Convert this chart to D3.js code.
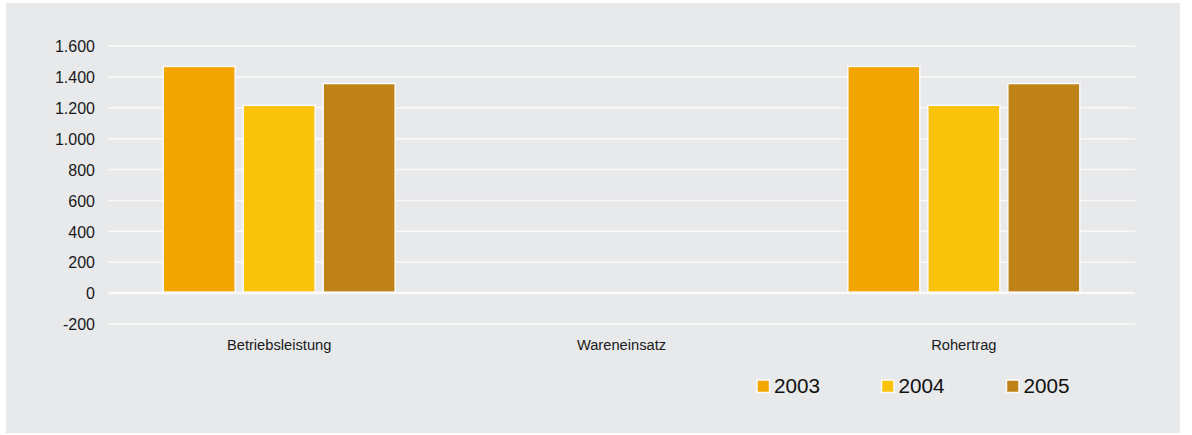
<!DOCTYPE html>
<html><head><meta charset="utf-8">
<script src="https://cdn.jsdelivr.net/npm/d3@7"></script>
<style>body{margin:0;background:#fff;font-family:"Liberation Sans",Arial,sans-serif}
text{font-family:"Liberation Sans",Arial,sans-serif}</style>
</head><body>
<svg id="c" width="1192" height="435"></svg>
<script>
const categories = ["Betriebsleistung", "Wareneinsatz", "Rohertrag"];
const years = ["2003", "2004", "2005"];
const v2003 = [1468, 0, 1468];
const v2004 = [1216, 0, 1216];
const v2005 = [1357, 0, 1357];
const yTicks = [-200, 0, 200, 400, 600, 800, 1000, 1200, 1400, 1600];
const colors = ["#f3a500", "#f9c30a", "#bf8216"];

const series = [v2003, v2004, v2005];
const svg = d3.select("#c");
svg.append("rect").attr("x", 6).attr("y", 3).attr("width", 1174).attr("height", 430).attr("fill", "#e8e9eb");

const x0 = d3.scaleBand().domain(categories).range([108, 1135]);
const y = d3.scaleLinear().domain([-200, 1600]).range([324, 46]);
const fmt = d => (d < 0 ? "-" : "") + d3.format(",")(Math.abs(d)).replace(/,/g, ".");

// grid
svg.append("g").selectAll("line").data(yTicks).join("line")
  .attr("x1", 108).attr("x2", 1135)
  .attr("y1", d => y(d)).attr("y2", d => y(d))
  .attr("stroke", "#fafafa").attr("stroke-width", d => d === 0 ? 2.5 : 1.5);

// y axis labels
const yAxis = d3.axisLeft(y).tickValues(yTicks).tickSize(0).tickPadding(0).tickFormat(fmt);
const ga = svg.append("g").attr("transform", "translate(95,0)").call(yAxis);
ga.select(".domain").remove();
ga.selectAll("text").style("font-size", "16px").attr("dy", "0.36em").attr("fill", "#1a1a1a");

// bars
const gw = 232, bw = 72, gap = 8;
categories.forEach((c, i) => {
  series.forEach((s, j) => {
    const v = s[i];
    if (v === 0) return;
    const cx = x0(c) + x0.bandwidth() / 2 - gw / 2 + j * (bw + gap);
    svg.append("rect")
      .attr("x", cx).attr("y", y(Math.max(0, v)))
      .attr("width", bw).attr("height", Math.abs(y(v) - y(0)) - 1)
      .attr("fill", colors[j]).attr("stroke", "#fafafa").attr("stroke-width", 1.5);
  });
});

// x axis labels
const xAxis = d3.axisBottom(x0).tickSize(0).tickPadding(0);
const gx = svg.append("g").attr("transform", "translate(0,339.5)").call(xAxis);
gx.select(".domain").remove();
gx.selectAll("text").style("font-size", "14.7px").attr("fill", "#1a1a1a");

// legend
const lx = [757, 881.5, 1006.5];
years.forEach((yr, j) => {
  const g = svg.append("g").attr("transform", `translate(${lx[j]},380)`);
  g.append("rect").attr("x", 0).attr("y", 0).attr("width", 12.5).attr("height", 12.5)
    .attr("fill", colors[j]).attr("stroke", "#fafafa").attr("stroke-width", 1.5);
  g.append("text").attr("x", 17).attr("y", 12.5).style("font-size", "20.7px").attr("fill", "#111").text(yr);
});
</script>
</body></html>
